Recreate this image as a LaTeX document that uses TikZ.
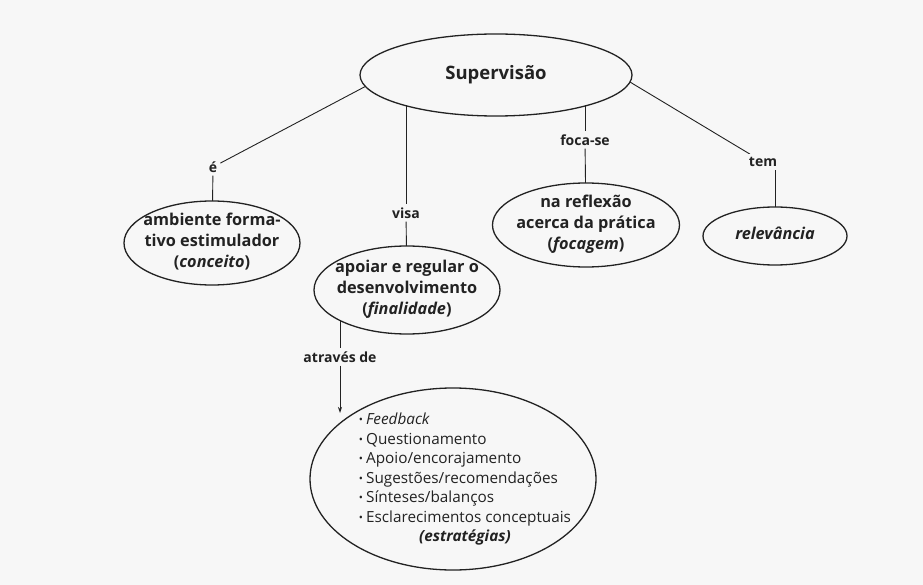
\documentclass[tikz,border=0pt]{standalone}
\usepackage{fontspec}
\setmainfont{Open Sans}
\usetikzlibrary{shapes.geometric,arrows.meta,backgrounds}
\definecolor{bg}{HTML}{F7F7F7}
\definecolor{ink}{HTML}{222222}
\newcommand\etext[2][c]{\smash{\raisebox{-0.25em}{\makebox[0pt]{\begin{tabular}{@{}#1@{}}#2\end{tabular}}}}}
\newcommand\bul{\raisebox{0.05em}{\fontsize{11}{11}\selectfont•}\hspace{0.2em}}
\begin{document}
\begin{tikzpicture}[x=1pt,y=-1pt,
  ell/.style={ellipse, draw=ink, line width=1.3pt, fill=bg, inner sep=0pt, outer sep=0pt, text=ink,
              font=\fontsize{16.3}{21}\selectfont\bfseries},
  lbl/.style={fill=bg, inner sep=3pt, text=ink, font=\fontsize{14}{15}\selectfont\bfseries},
  con/.style={draw=ink, line width=0.9pt}]
\path[use as bounding box] (0,0) rectangle (923,585);

\node[ell, minimum width=272pt, minimum height=82pt, font=\fontsize{18.5}{21}\selectfont\bfseries] (sup) at (496,75) {\etext{Supervisão}};
\node[ell, minimum width=176pt, minimum height=84pt] (amb) at (212,243) {\etext{ambiente forma-\\tivo estimulador\\(\textit{conceito})}};
\node[ell, minimum width=186pt, minimum height=88pt] (apo) at (407,290) {\etext{apoiar e regular o\\desenvolvimento\\(\textit{finalidade})}};
\node[ell, minimum width=187pt, minimum height=84pt] (refl) at (586,225) {\etext{na reflexão\\acerca da prática\\(\textit{focagem})}};
\node[ell, minimum width=144pt, minimum height=58pt] (rel) at (775,236) {\etext{\textit{relevância}}};
\node[ell, minimum width=286pt, minimum height=182pt, font=\fontsize{15.3}{19.5}\selectfont] (strat) at (453,479)
  {\etext[l]{\hspace*{24pt}\begin{tabular}{@{}l@{}}
   \bul\textit{Feedback}\\
   \bul Questionamento\\
   \bul Apoio/encorajamento\\
   \bul Sugestões/recomendações\\
   \bul Sínteses/balanços\\
   \bul Esclarecimentos conceptuais\\
   \multicolumn{1}{@{}c@{}}{\textbf{\textit{(estratégias)}}}
   \end{tabular}}};

\node[lbl] (e) at (213,167) {é};
\node[lbl] (visa) at (406,213) {visa};
\node[lbl] (foca) at (585,140) {foca-se};
\node[lbl] (tem) at (763,162) {tem};
\node[lbl] (atr) at (340,357) {através de};
\coordinate (arrEnd) at (340,413);

\begin{pgfonlayer}{background}
  \fill[bg] (0,0) rectangle (923,585);
  \draw[con] (sup.185) -- (e);
  \draw[con] (e) -- (amb);
  \draw[con] (visa |- sup.center) -- (visa);
  \draw[con] (visa) -- (apo);
  \draw[con] (foca |- sup.center) -- (foca);
  \draw[con] (foca) -- (refl);
  \draw[con] (sup.-3) -- (tem);
  \draw[con] (tem.south -| rel.north) -- (rel.north);
  \draw[con] (atr |- apo.center) -- (atr);
  \draw[con, -{Stealth[length=6pt,width=4pt]}] (atr) -- (arrEnd);
\end{pgfonlayer}
\end{tikzpicture}
\end{document}
